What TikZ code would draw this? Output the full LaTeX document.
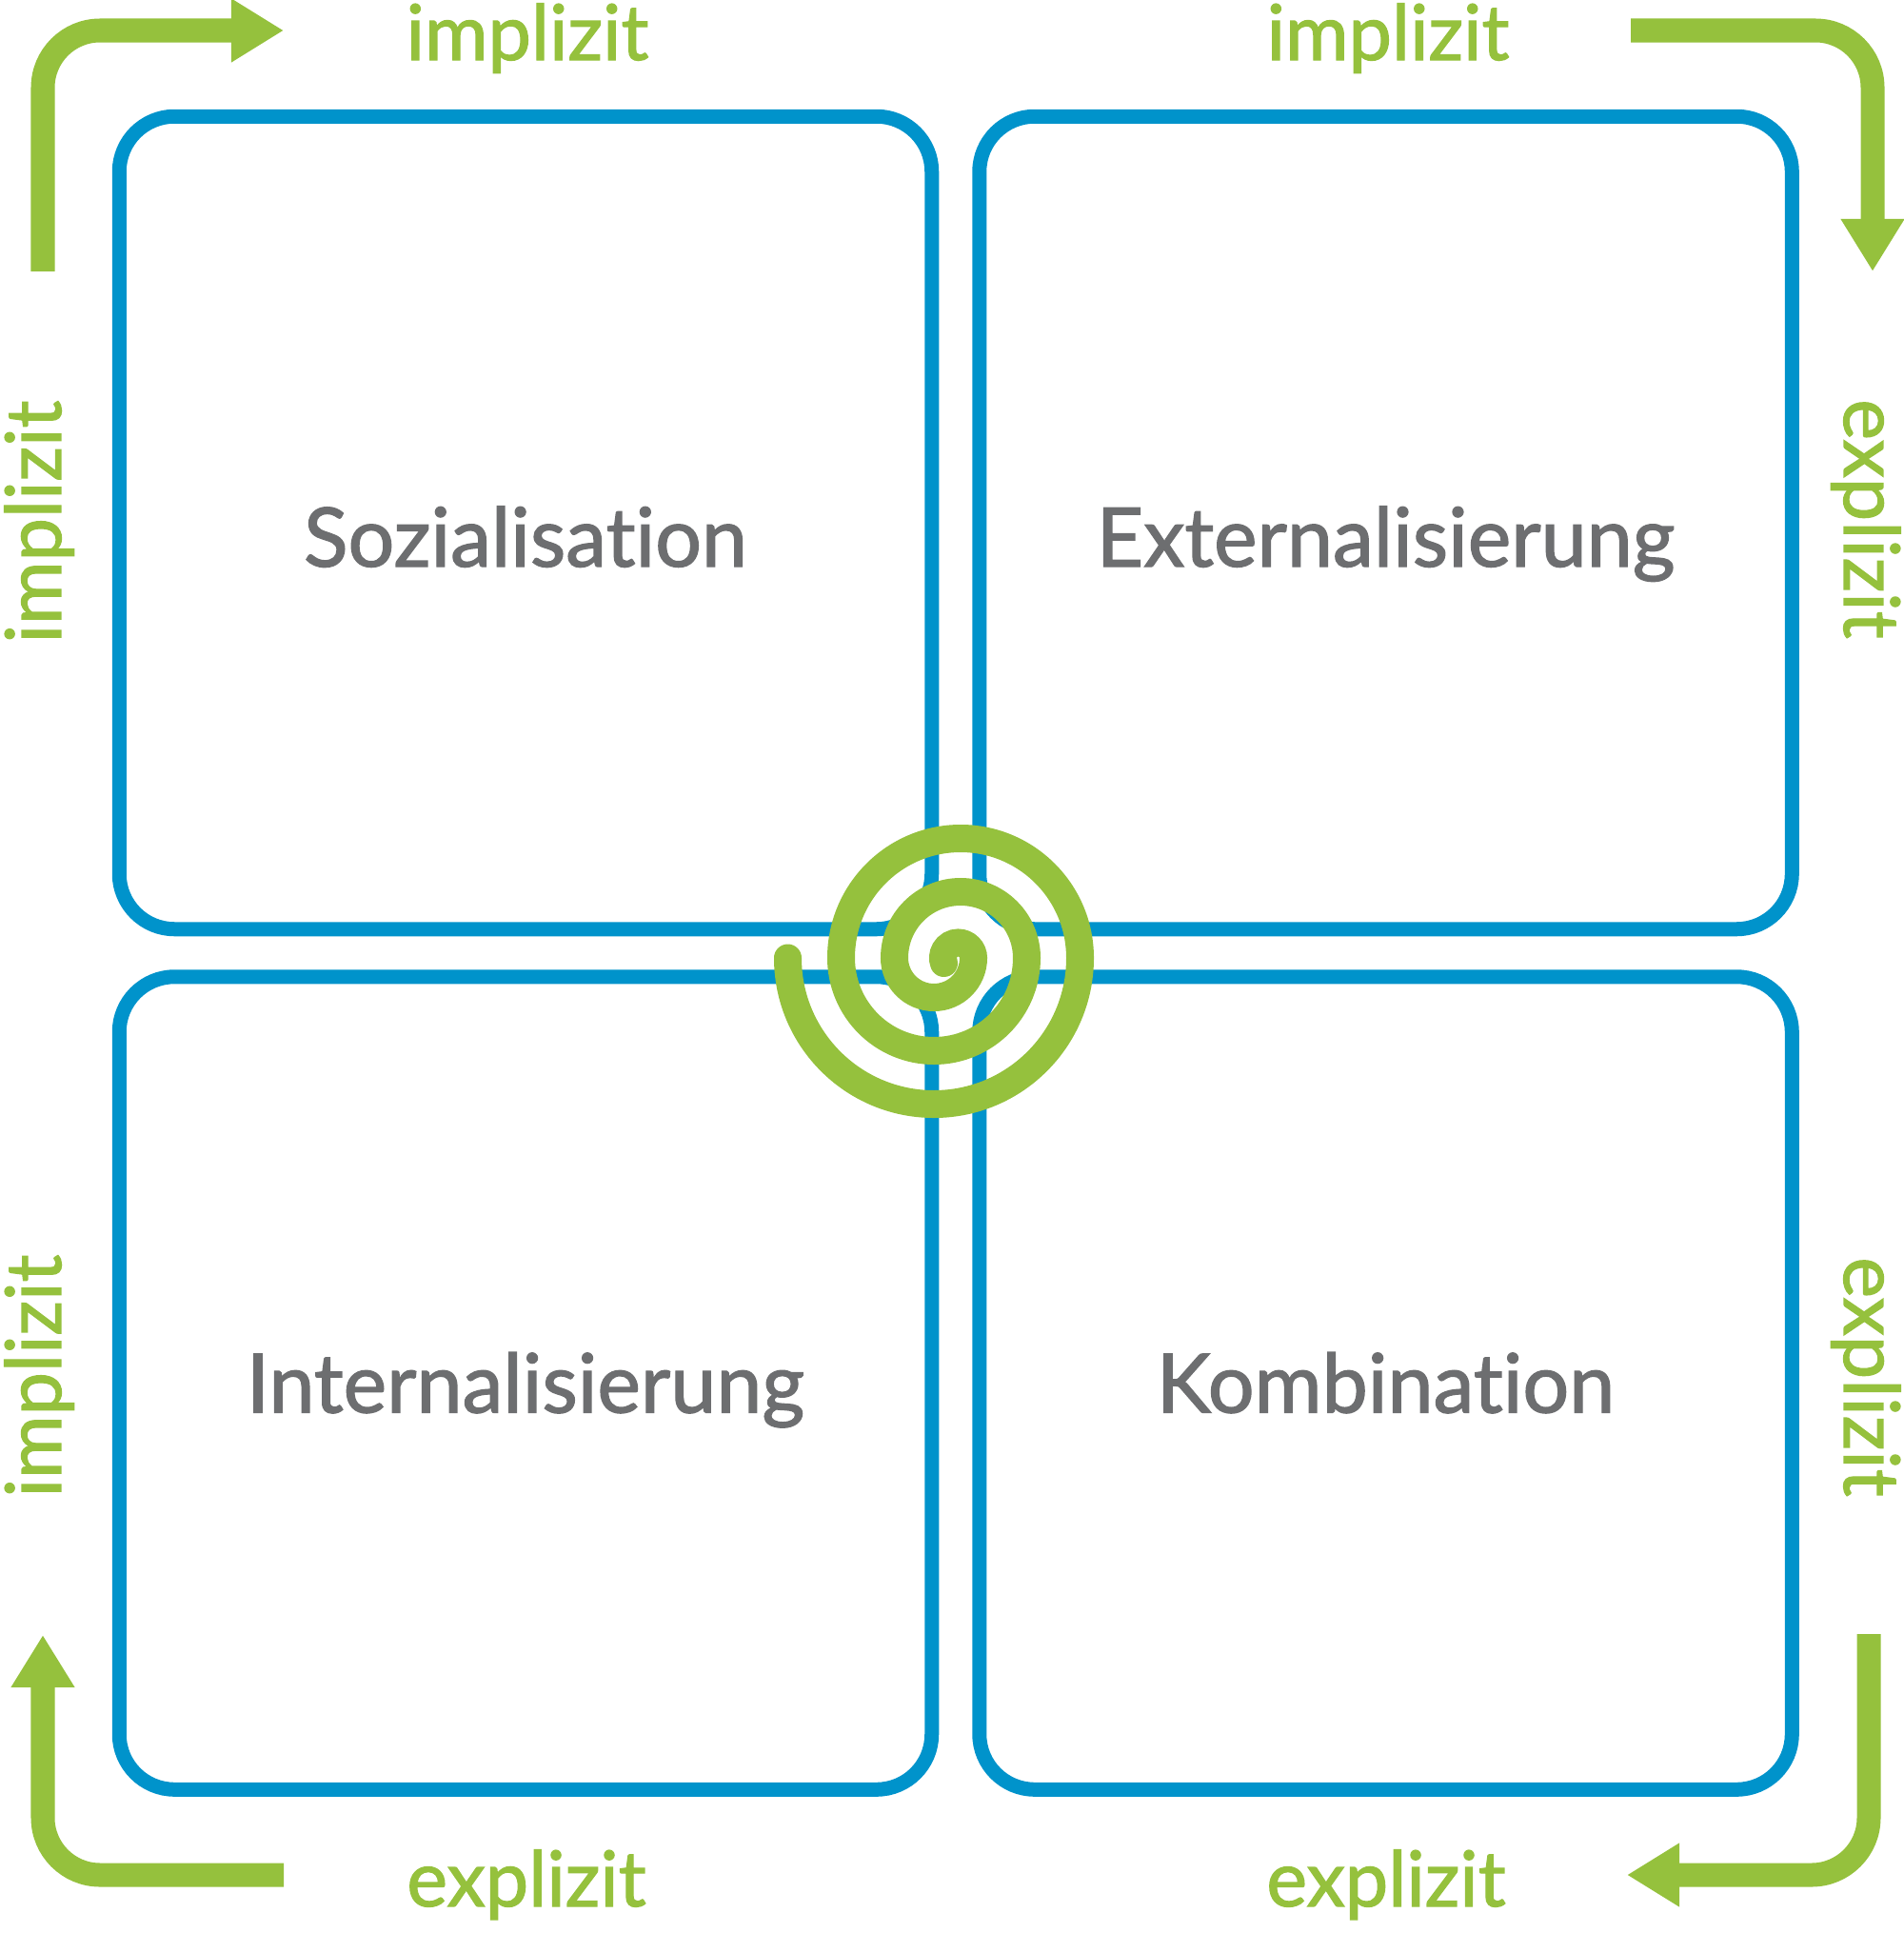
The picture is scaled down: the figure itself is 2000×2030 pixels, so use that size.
\documentclass[tikz,border=0pt]{standalone}
\usepackage{fontspec}
\setmainfont{Lato}[Ligatures=NoCommon]
\newfontfamily\quadfont{Lato}[Ligatures=NoCommon,FakeBold=1.5]
\usetikzlibrary{arrows.meta,positioning}
\definecolor{quadBlue}{HTML}{0093CB}
\definecolor{spiralGreen}{HTML}{95C13D}
\definecolor{textGray}{HTML}{6D6E70}

\begin{document}
\begin{tikzpicture}[x=0.01cm,y=-0.01cm,
  quad/.style={draw=quadBlue,line width=1.5mm,rounded corners=5.8mm,minimum width=85.3mm,minimum height=85.3mm,outer sep=0pt,inner sep=0pt},
  title/.style={text=textGray,font=\quadfont\fontsize{24.5}{28}\selectfont,anchor=base},
  mode/.style={text=spiralGreen,font=\quadfont\fontsize{23}{26}\selectfont,anchor=base},
  flow/.style={draw=spiralGreen,line width=2.5mm,rounded corners=6mm,-{Triangle[length=5.5mm,width=6.3mm]}},
  node distance=5mm and 5mm]
\useasboundingbox (0,0) rectangle (2000,2030);
% the four quadrants
\node[quad] (soz) at (552,549) {};
\node[quad,right=of soz] (ext) {};
\node[quad,below=of soz] (int) {};
\node[quad,below=of ext] (kom) {};
\node[title] (sozT) at ([yshift=-4.6mm]soz.center) {Sozialisation};
\node[title] (extT) at ([yshift=-4.6mm]ext.center) {Externalisierung};
\node[title] (intT) at ([yshift=-3.1mm]int.center) {Internalisierung};
\node[title] (komT) at ([yshift=-3.1mm]kom.center) {Kombination};
% labels round the edge
\node[mode] (impTL) at (554,63) {implizit};
\node[mode] (impTR) at (1458,63) {implizit};
\node[mode] (expBL) at (553,2002) {explizit};
\node[mode] (expBR) at (1456,2002) {explizit};
\node[mode,rotate=90] (impL1) at (64,548) {implizit};
\node[mode,rotate=90] (impL2) at (64,1445) {implizit};
\node[mode,rotate=-90] (expR1) at (1937,545) {explizit};
\node[mode,rotate=-90] (expR2) at (1937,1446) {explizit};
% corner arrows
\coordinate (a1) at (45,285); \coordinate (a1e) at (298,32);
\coordinate (a2) at (1713,32); \coordinate (a2e) at (1967,285);
\coordinate (a3) at (1963,1716); \coordinate (a3e) at (1709,1969);
\coordinate (a4) at (298,1969); \coordinate (a4e) at (45,1717);
\draw[flow] (a1) |- (a1e);
\draw[flow] (a2) -| (a2e);
\draw[flow] (a3) |- (a3e);
\draw[flow] (a4) -| (a4e);
% spiral: half circles round two centres
\coordinate (tail) at (827.5,1006);
\draw[spiralGreen,line width=2.9mm,line cap=round] (tail)
  arc[start angle=180,end angle=0,radius=153.5]
  arc[start angle=0,end angle=-180,radius=125.5]
  arc[start angle=180,end angle=0,radius=97.5]
  arc[start angle=0,end angle=-180,radius=69.5]
  arc[start angle=180,end angle=0,radius=41.5]
  arc[start angle=0,end angle=-200,radius=16];
\end{tikzpicture}
\end{document}
